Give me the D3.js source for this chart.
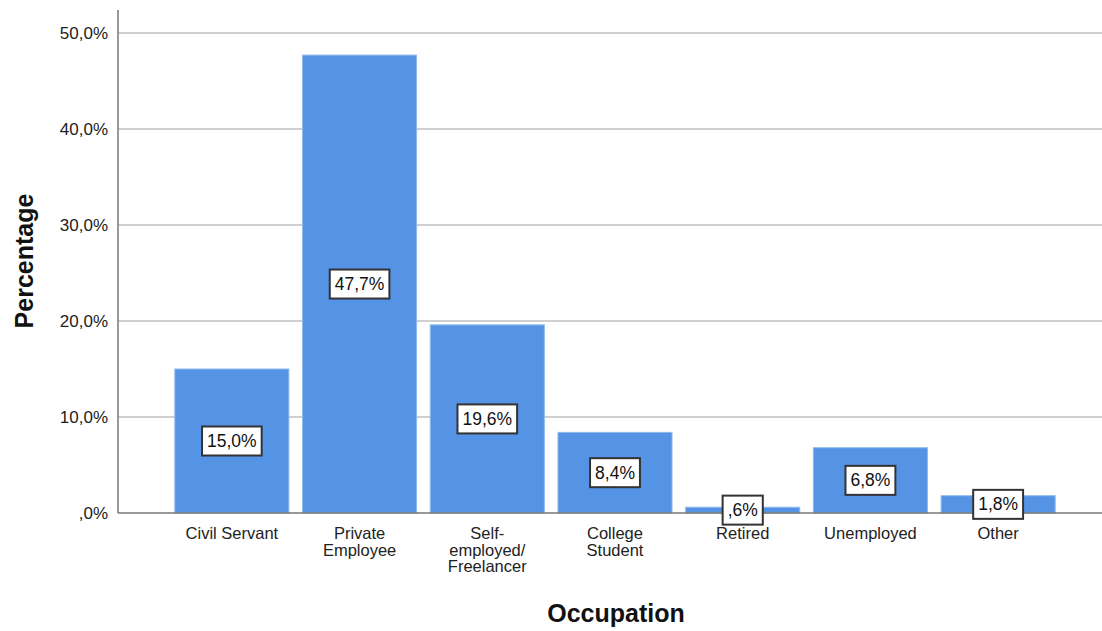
<!DOCTYPE html>
<html><head><meta charset="utf-8">
<script src="https://cdn.jsdelivr.net/npm/d3@7"></script>
<style>body{margin:0;background:#fff;} svg{display:block;font-family:"Liberation Sans",Arial,sans-serif;}</style>
</head><body>
<svg id="c" width="1102" height="631"></svg>
<script>
const categories = ["Civil Servant", "Private\nEmployee", "Self-\nemployed/\nFreelancer", "College\nStudent", "Retired", "Unemployed", "Other"];
const values = [15.0, 47.7, 19.6, 8.4, 0.6, 6.8, 1.8];
const valueLabels = ["15,0%", "47,7%", "19,6%", "8,4%", ",6%", "6,8%", "1,8%"];
const yTicks = [0, 10, 20, 30, 40, 50];
const yTickLabels = [",0%", "10,0%", "20,0%", "30,0%", "40,0%", "50,0%"];

const svg = d3.select("#c");
const x0 = 118, yBase = 513;
const x = d3.scaleBand().domain(categories).range([168, 1062]).paddingInner(0.107).paddingOuter(0.0535);
const y = d3.scaleLinear().domain([0, 50]).range([yBase, 33]);

// gridlines
svg.append("g").selectAll("line").data(yTicks.filter(d => d > 0)).join("line")
  .attr("x1", x0).attr("x2", 1102).attr("y1", d => y(d)).attr("y2", d => y(d))
  .attr("stroke", "#cfcfcf").attr("stroke-width", 2);

// y axis
const yAxis = d3.axisLeft(y).tickValues(yTicks).tickSize(0).tickPadding(10)
  .tickFormat((d, i) => yTickLabels[i]);
const gy = svg.append("g").attr("transform", `translate(${x0},0)`).call(yAxis);
gy.select(".domain").remove();
gy.selectAll("text").attr("font-size", 17).attr("fill", "#222").attr("font-family", "Liberation Sans, Arial, sans-serif");
svg.append("line").attr("x1", x0).attr("x2", x0).attr("y1", 10).attr("y2", yBase).attr("stroke", "#777").attr("stroke-width", 1.5);

// bars
svg.append("g").selectAll("rect").data(values).join("rect")
  .attr("x", (d, i) => x(categories[i]))
  .attr("width", x.bandwidth())
  .attr("y", d => y(d))
  .attr("height", d => yBase - y(d))
  .attr("fill", "#5593e4")
  .attr("stroke", "#8fb8ee").attr("stroke-width", 1);

// x axis line
svg.append("line").attr("x1", x0).attr("x2", 1102).attr("y1", yBase).attr("y2", yBase).attr("stroke", "#777").attr("stroke-width", 1.5);

// category labels
const xAxis = d3.axisBottom(x).tickSize(0).tickPadding(0).tickFormat("");
const gx = svg.append("g").attr("transform", `translate(0,${yBase})`).call(xAxis);
gx.select(".domain").remove();
gx.selectAll(".tick").each(function(d) {
  const t = d3.select(this).append("text").attr("text-anchor", "middle").attr("fill", "#222")
    .attr("font-size", 16.5).attr("font-family", "Liberation Sans, Arial, sans-serif");
  d.split("\n").forEach((line, j) => {
    t.append("tspan").attr("x", 0).attr("y", 26 + j * 16.5).text(line);
  });
});

// value labels
const lg = svg.append("g");
values.forEach((v, i) => {
  const cx = x(categories[i]) + x.bandwidth() / 2;
  const cy = (y(v) + yBase) / 2;
  const g = lg.append("g").attr("transform", `translate(${cx},${cy})`);
  const t = g.append("text").attr("text-anchor", "middle").attr("dy", "0.35em")
    .attr("font-size", 17.5).attr("fill", "#111").text(valueLabels[i]);
  const w = t.node().getComputedTextLength();
  g.insert("rect", "text").attr("x", -w / 2 - 5).attr("y", -14.5).attr("width", w + 10).attr("height", 29)
    .attr("fill", "#fff").attr("stroke", "#333").attr("stroke-width", 2);
});

// axis titles
svg.append("text").attr("transform", "translate(33,261) rotate(-90)").attr("text-anchor", "middle")
  .attr("font-size", 25).attr("font-weight", "bold").attr("fill", "#111").text("Percentage");
svg.append("text").attr("x", 616).attr("y", 622).attr("text-anchor", "middle")
  .attr("font-size", 25).attr("font-weight", "bold").attr("fill", "#111").text("Occupation");
</script>
</body></html>
